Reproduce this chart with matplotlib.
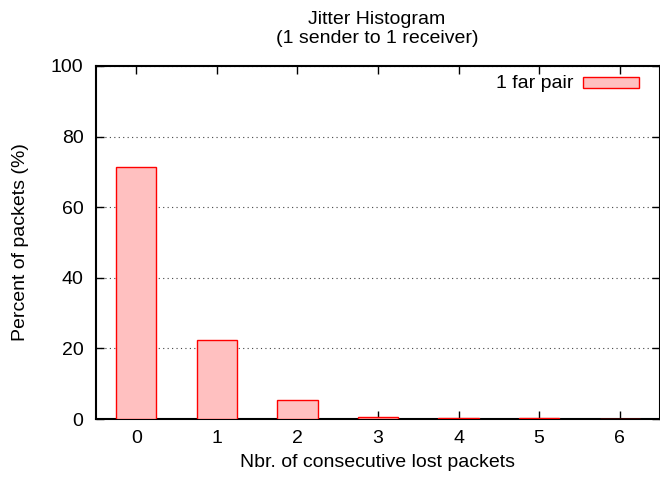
import matplotlib
matplotlib.use("Agg")
import matplotlib.pyplot as plt
from matplotlib.patches import Rectangle

lost_packets = [0, 1, 2, 3, 4, 5, 6]
percent = [71.3, 22.3, 5.3, 0.6, 0.3, 0.3, 0.0]
series_label = "1 far pair"

plt.rcParams["font.family"] = ["Liberation Sans", "DejaVu Sans"]
plt.rcParams["font.size"] = 14

fig = plt.figure(figsize=(6.6, 4.8), dpi=100)
ax = fig.add_axes([96 / 660, 1 - 419 / 480, 564 / 660, 353 / 480])

ax.bar(lost_packets, percent, width=0.5, color="#ffc0c0", edgecolor="red",
       linewidth=1.0, zorder=3, label=series_label)

ax.set_xlim(-0.5, 6.5)
ax.set_ylim(0, 100)
ax.set_xticks(lost_packets)
ax.set_yticks([0, 20, 40, 60, 80, 100])
ax.tick_params(direction="in", length=6, width=1, top=True, right=True)
ax.tick_params(axis="x", pad=8)
ax.tick_params(axis="y", pad=9)
ax.yaxis.grid(True, linestyle=(0, (1, 3)), color="#444444", linewidth=0.8, zorder=1)
for spine in ax.spines.values():
    spine.set_linewidth(1.5)

ax.set_xlabel("Nbr. of consecutive lost packets", labelpad=5)
ax.set_ylabel("Percent of packets (%)", labelpad=16)
fig.text(377 / 660, 1 - 29 / 480, "Jitter Histogram\n(1 sender to 1 receiver)",
         ha="center", va="center", fontsize=14, linespacing=1.1)

# legend drawn gnuplot-style: text then a sample box
ax.text(573, 480 - 83, series_label, transform=None, ha="right", va="center")
box = Rectangle((583, 480 - 88), 56, 11, transform=None, facecolor="#ffc0c0",
                edgecolor="red", linewidth=1.0)
fig.patches.append(box)

fig.savefig("out.png", dpi=100)
